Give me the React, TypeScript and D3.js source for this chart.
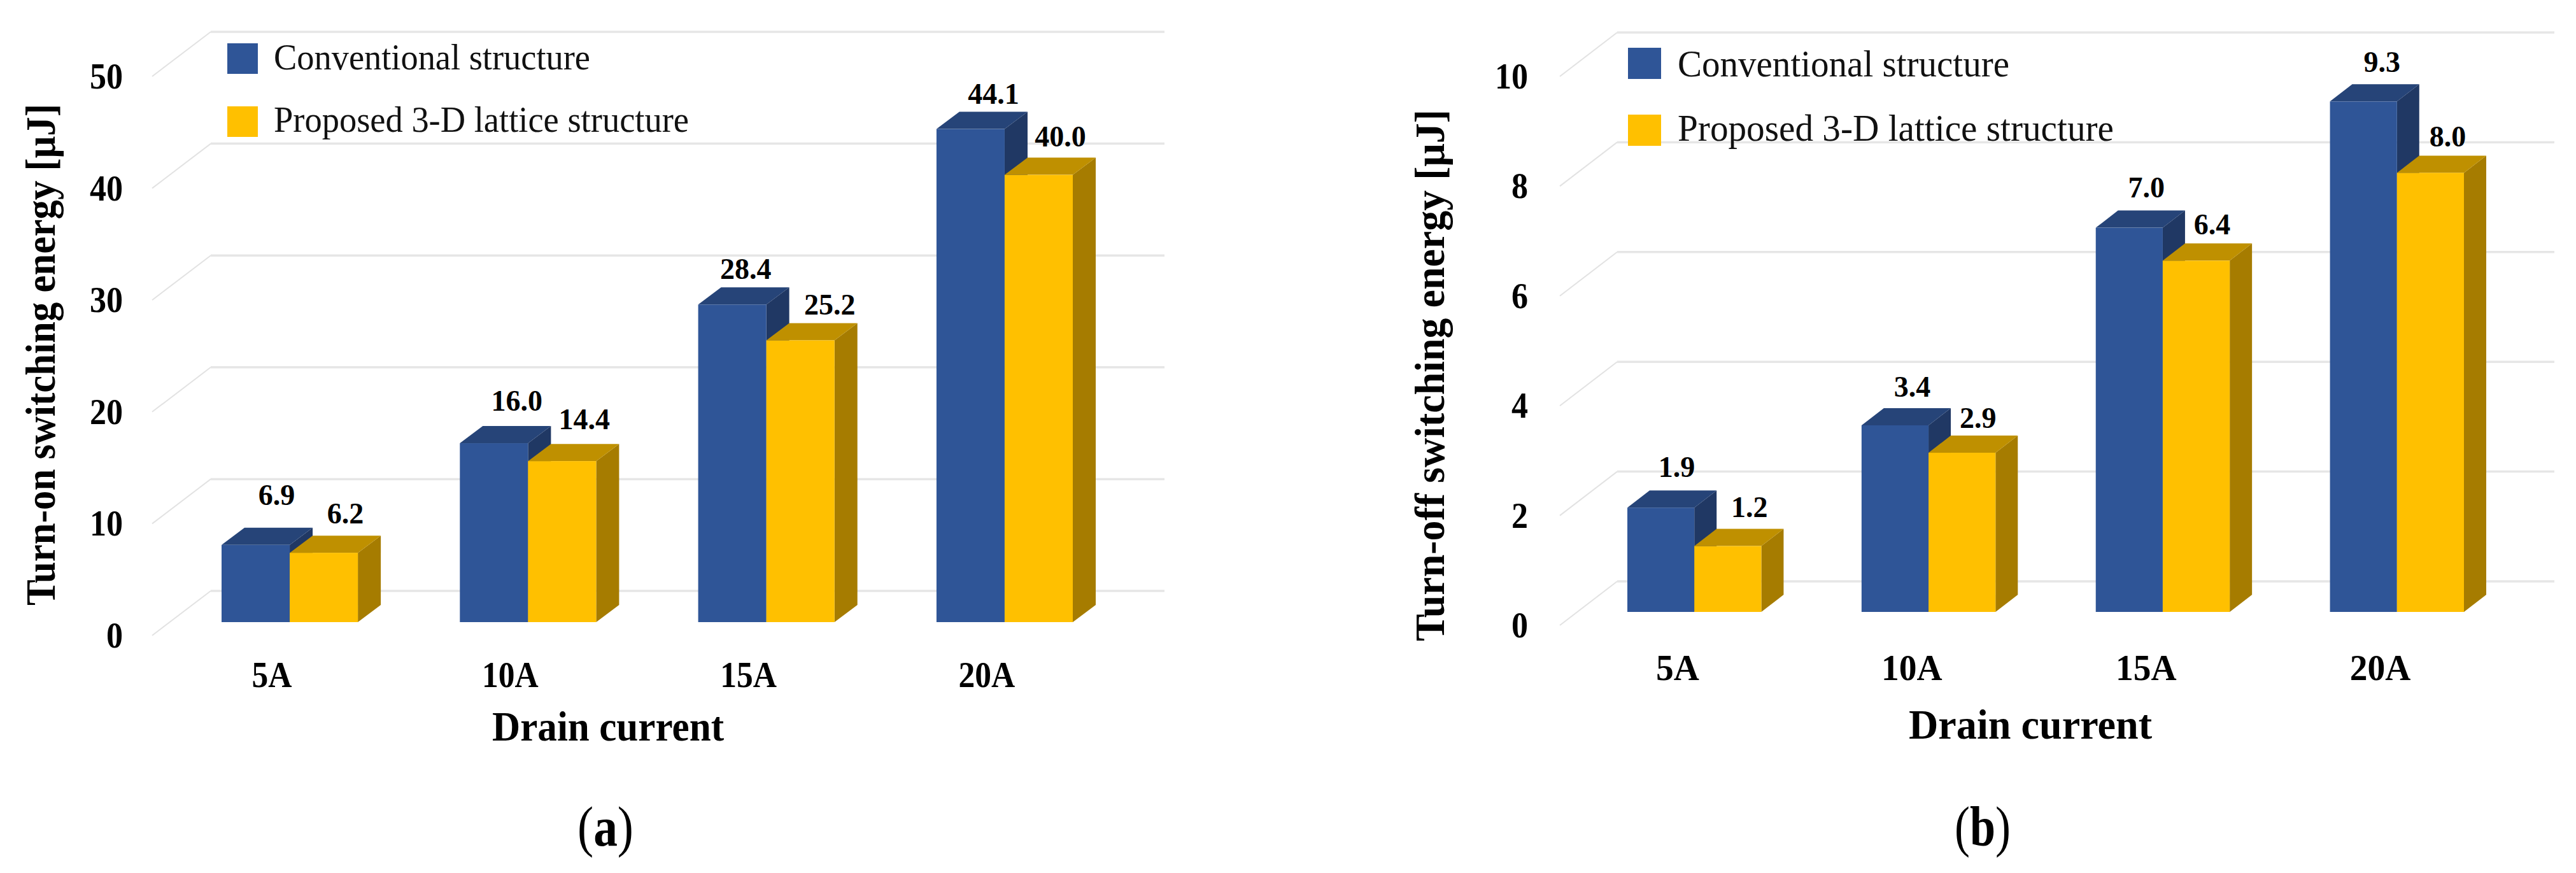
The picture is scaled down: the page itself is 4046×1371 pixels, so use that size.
import * as d3 from "d3";

const categories = ["5A", "10A", "15A", "20A"];
const seriesNames = ["Conventional structure", "Proposed 3-D lattice structure"];

const turnOnConventional = [6.9, 16.0, 28.4, 44.1];
const turnOnProposed = [6.2, 14.4, 25.2, 40.0];
const turnOffConventional = [1.9, 3.4, 7.0, 9.3];
const turnOffProposed = [1.2, 2.9, 6.4, 8.0];

const turnOnTicks = [0, 10, 20, 30, 40, 50];
const turnOffTicks = [0, 2, 4, 6, 8, 10];

const FACE = ["#2F5597", "#FFC000"];
const TOP = ["#264478", "#BF9000"];
const SIDE = ["#203864", "#A67C00"];
const GRID = "#E6E6E6";
const SERIF = "'Liberation Serif', serif";

// labels were placed by hand in the original, so they get their own nudges: [dx, lift]
const turnOnNudges = [
  [[-3, 51], [0, 40], [-15, 29], [0, 28]],
  [[-2, 35], [-1, 39], [10, 29], [-2, 33]],
];
const turnOffNudges = [
  [[-10, 37], [-8, 33], [-8, 36], [-6, 35]],
  [[-1, 34], [-10, 28], [-10, 30], [-8, 30]],
];

const line = d3.line();
const poly = (pts) => line(pts) + "Z";
// the picture's bold labels are squeezed a bit sideways, so set their width from the em count
const catEms = (s) => d3.sum(s, (ch) => (ch === "A" ? 0.722 : 0.5));

const Panel = ({ p }) => {
  const y = d3.scaleLinear().domain([0, p.max]).range([p.gridBase, p.gridTop]);
  const h = y(0) - y(1);
  const x0 = d3.scaleBand().domain(categories).range([p.barLeft, p.barRight]).paddingInner(p.gap);
  const x1 = d3.scaleBand().domain(["0", "1"]).range([0, x0.bandwidth()]);
  const bw = x1.bandwidth();
  const { depthX, depthY, frontX, frontY, barBase } = p;

  return (
    <g fontFamily={SERIF} fill="#000">
      {p.ticks.map((t) => (
        <g key={t}>
          <path d={line([[frontX, y(t) + frontY], [p.gridLeft, y(t)]])} fill="none" stroke="#E2E2E2" strokeWidth={2} />
          <path d={line([[p.gridLeft, y(t)], [p.gridRight, y(t)]])} fill="none" stroke={GRID} strokeWidth={3.5} />
          <text
            x={p.tickRight}
            y={y(t) + frontY + 19}
            textAnchor="end"
            fontSize={56}
            fontWeight="bold"
            textLength={String(t).length * 26}
            lengthAdjust="spacingAndGlyphs"
          >
            {t}
          </text>
        </g>
      ))}

      {categories.map((c, i) => (
        <g key={c}>
          {p.series.map((vals, s) => {
            const v = vals[i];
            const bx = x0(c) + x1(String(s));
            const top = barBase - v * h;
            const [dx, lift] = p.nudges[s][i];
            return (
              <g key={s}>
                <path d={poly([[bx + bw, top], [bx + bw + depthX, top - depthY], [bx + bw + depthX, barBase - depthY], [bx + bw, barBase]])} fill={SIDE[s]} />
                <path d={poly([[bx, top], [bx + depthX, top - depthY], [bx + bw + depthX, top - depthY], [bx + bw, top]])} fill={TOP[s]} />
                <rect x={bx} y={top} width={bw} height={v * h} fill={FACE[s]} />
                <text x={bx + bw / 2 + depthX + dx} y={top - depthY - lift + 15.5} textAnchor="middle" fontSize={46} fontWeight="bold">
                  {v.toFixed(1)}
                </text>
              </g>
            );
          })}
          <text
            x={x0(c) + p.catOffset}
            y={p.catBase}
            textAnchor="middle"
            fontSize={57}
            fontWeight="bold"
            textLength={catEms(c) * p.catEm}
            lengthAdjust="spacingAndGlyphs"
          >
            {c}
          </text>
        </g>
      ))}

      {seriesNames.map((name, s) => (
        <g key={name}>
          <rect x={p.legendX} y={p.legendY[s]} width={p.legendW} height={p.legendH} fill={FACE[s]} />
          <text x={p.legendTextX} y={p.legendBase[s]} fontSize={p.legendFont} textLength={p.legendLen[s]} lengthAdjust="spacingAndGlyphs" fill="#111">
            {name}
          </text>
        </g>
      ))}

      <text
        transform={`translate(${p.yTitleX},${p.yTitleBottom}) rotate(-90)`}
        fontSize={66}
        fontWeight="bold"
        textLength={p.yTitleLen}
        lengthAdjust="spacingAndGlyphs"
      >
        {p.yTitle}
      </text>
      <text x={p.xTitleX} y={p.xTitleBase} fontSize={65} fontWeight="bold" textLength={p.xTitleLen} lengthAdjust="spacingAndGlyphs">
        Drain current
      </text>
      <text x={p.capX} y={1328} textAnchor="middle" fontSize={88} textLength={88} lengthAdjust="spacingAndGlyphs">
        (<tspan fontWeight="bold">{p.cap}</tspan>)
      </text>
    </g>
  );
};

const panelA = {
  max: 50, ticks: turnOnTicks, series: [turnOnConventional, turnOnProposed], nudges: turnOnNudges,
  gridBase: 928, gridTop: 50, gridLeft: 331, gridRight: 1829, frontX: 239, frontY: 70,
  barBase: 977, barLeft: 348, barRight: 1685, gap: 0.428, depthX: 36, depthY: 27,
  tickRight: 193, catOffset: 79, catBase: 1079, catEm: 51.5,
  legendX: 357, legendY: [68, 167], legendW: 48, legendH: 48, legendTextX: 430, legendBase: [109, 207], legendFont: 56, legendLen: [497, 652],
  yTitle: "Turn-on switching energy [μJ]", yTitleX: 86, yTitleBottom: 951, yTitleLen: 788,
  xTitleX: 773, xTitleBase: 1163, xTitleLen: 364, capX: 951, cap: "a",
};

const panelB = {
  max: 10, ticks: turnOffTicks, series: [turnOffConventional, turnOffProposed], nudges: turnOffNudges,
  gridBase: 913, gridTop: 51, gridLeft: 2540, gridRight: 4012, frontX: 2450, frontY: 69,
  barBase: 961, barLeft: 2556, barRight: 3870, gap: 0.428, depthX: 35, depthY: 27,
  tickRight: 2400, catOffset: 79, catBase: 1068, catEm: 55.5,
  legendX: 2557, legendY: [75, 180], legendW: 52, legendH: 49, legendTextX: 2635, legendBase: [120, 221], legendFont: 59, legendLen: [521, 685],
  yTitle: "Turn-off switching energy [μJ]", yTitleX: 2268, yTitleBottom: 1007, yTitleLen: 835,
  xTitleX: 2998, xTitleBase: 1160, xTitleLen: 382, capX: 3114, cap: "b",
};

export default function App() {
  return (
    <svg width={4046} height={1371} style={{ position: "absolute", left: 0, top: 0, display: "block", background: "#fff" }}>
      <Panel p={panelA} />
      <Panel p={panelB} />
    </svg>
  );
}
